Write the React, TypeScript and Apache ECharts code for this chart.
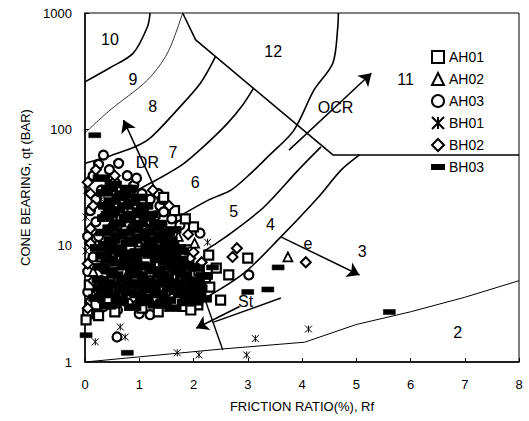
import React, { useEffect, useRef } from "react";
import * as echarts from "echarts";

const FONT = "Liberation Sans, Arial, sans-serif";

// Zone boundary curves [Rf, qt]
const line10_9 = [[0, 256], [0.46, 338], [0.89, 452], [1.15, 758], [1.2, 1000]];
const line9_8 = [[0, 93], [0.46, 146], [1.15, 265], [1.52, 452], [1.8, 1000]];
const line8_7 = [[0, 51], [0.5, 60], [0.9, 70], [1.2, 84], [1.7, 147], [2.13, 250], [2.41, 425]];
const line7_6 = [[0.96, 30], [1.33, 37], [1.8, 50], [2.2, 72], [2.63, 113], [2.9, 160], [3.11, 227]];
const line6_5 = [[1.75, 18], [2.3, 25], [2.69, 30], [3.06, 42], [3.4, 60], [3.85, 98], [4.22, 217], [4.57, 372], [4.66, 760], [4.67, 1000]];
const line5_4 = [[2.2, 9], [2.37, 10.1], [2.69, 12.8], [3.3, 21.5], [3.93, 44.6], [4.35, 70.6]];
const line4_3 = [[2.22, 3.55], [2.93, 5.8], [3.61, 11.9], [4.3, 26.1], [4.72, 44.6], [5.06, 60.2]];
const line12 = [[1.8, 1000], [2.04, 587], [4.57, 60.2], [8, 60.2]];
const line2 = [[0, 1.0], [2.5, 1.29], [4.05, 1.48], [5.0, 2.1], [6.0, 2.7], [7.0, 3.6], [8, 5.0]];
const lineSteep = [[2.19, 3.69], [2.54, 1.27]];
const lineSt = [[2.37, 2.2], [3.61, 3.55]];

// Arrows [x1, y1, x2, y2]
const arrows = [
  [1.43, 22.4, 0.71, 120],
  [3.76, 66.3, 5.28, 303],
  [3.61, 11.9, 5.06, 5.6],
  [2.85, 3.0, 2.05, 1.95],
];

// Zone / arrow labels [text, Rf, qt]
const zoneLabels: [string, number, number][] = [
  ["10", 0.46, 587], ["9", 0.885, 266], ["8", 1.25, 156], ["7", 1.62, 62.7],
  ["6", 2.03, 34.6], ["5", 2.74, 19.5], ["4", 3.42, 15.1], ["3", 5.11, 8.83],
  ["2", 6.87, 1.81], ["12", 3.47, 463], ["11", 5.91, 266], ["OCR", 4.62, 153],
  ["DR", 1.15, 51.4], ["e", 4.11, 10.5], ["St", 2.96, 3.28],
];

// Data points [Rf, qt]
const AH01 = [[2.0, 14.5], [2.28, 8.3], [2.22, 5.3], [2.65, 5.6], [2.5, 3.4], [3.0, 7.8], [1.92, 9.2], [2.1, 6.1], [1.8, 5.0], [2.3, 4.4], [1.52, 12], [1.7, 7.2], [2.0, 4.0], [1.2, 6.3], [1.0, 9], [0.82, 12], [0.5, 18], [0.3, 8], [0.08, 4.6], [0.05, 2.6], [0.62, 5], [0.92, 4], [1.42, 3.5], [1.82, 3.0], [2.08, 3.1], [0.42, 3.5], [0.2, 3.1], [1.12, 15], [0.7, 20], [1.62, 5.6], [2.42, 6.4], [1.95, 2.8], [0.02, 2.3], [1.32, 10], [1.85, 17], [1.65, 20], [1.45, 26], [0.25, 2.5], [0.55, 2.7], [1.05, 2.9], [1.35, 2.7]];
const AH02 = [[3.74, 8.0], [0.5, 30], [1.0, 20], [1.5, 8], [0.8, 6], [1.2, 3.5], [0.3, 10], [1.72, 12], [2.02, 10.5], [0.15, 6], [1.1, 4.8]];
const AH03 = [[0.34, 60], [0.62, 51], [0.78, 40], [0.45, 45], [0.25, 50], [0.15, 40], [0.55, 35], [0.9, 33], [1.05, 28], [1.2, 25], [1.38, 22], [1.45, 19.5], [1.3, 18], [1.6, 17], [1.75, 15], [1.1, 12], [0.3, 30], [0.2, 25], [0.1, 20], [0.4, 22], [0.7, 24], [0.6, 15], [0.25, 12], [0.15, 8], [0.05, 6], [0.3, 5], [0.5, 4], [0.8, 3.2], [0.35, 3], [0.1, 3.3], [0.6, 2.8], [1.0, 2.6], [0.9, 6], [1.3, 8], [1.6, 10], [1.9, 7], [2.12, 12.8], [3.02, 5.6], [0.59, 1.64], [0.2, 16], [0.5, 10], [0.75, 7], [1.2, 5], [1.5, 4], [0.05, 12], [0.4, 8], [1.35, 28], [1.42, 25], [0.95, 38], [0.85, 30], [0.05, 4], [0.12, 2.8], [1.2, 2.55]];
const BH01 = [[0.19, 1.49], [0.74, 1.64], [0.65, 2.0], [1.7, 1.2], [2.1, 1.15], [2.98, 1.15], [3.14, 1.59], [4.12, 1.92], [2.26, 10.7], [0.02, 17.6], [0.5, 12], [1.0, 6], [1.5, 15], [0.02, 9], [0.3, 25], [0.03, 30], [1.3, 4.5], [0.7, 8], [1.8, 6]];
const BH02 = [[2.8, 9.5], [2.72, 8.0], [4.07, 7.2], [1.94, 7.8], [0.05, 35], [0.1, 28], [0.15, 22], [0.1, 14], [0.22, 10], [0.05, 7], [0.15, 5], [0.25, 4], [0.1, 10.5], [0.35, 18], [0.45, 14], [0.6, 9], [0.9, 15], [1.2, 14], [1.4, 6], [1.7, 9.5], [2.0, 8.8], [0.3, 6.5], [0.7, 4.2], [1.0, 3.3], [1.55, 4.5], [0.8, 28], [0.55, 40], [0.2, 45], [1.9, 12.5], [1.25, 30], [1.55, 22], [2.15, 7.2], [0.05, 2.9], [0.25, 3.6]];
// BH03, isolated readings
const BH03_isolated = [[0.18, 89], [0.02, 1.7], [0.78, 1.2], [5.61, 2.69], [3.56, 6.5], [3.37, 4.2], [3.0, 4.0], [2.35, 6.5]];
// BH03, readings inside the dense cluster
const BH03_cluster = [
  [0.42, 3.05], [0.88, 2.95], [1.32, 3.1], [1.62, 2.9], [2.02, 3.3],
  [0.65, 3.25], [1.1, 3.25], [1.45, 3.2], [1.85, 3.25],
  [0.22, 3.55], [0.63, 3.45], [1.08, 3.6], [1.52, 3.4], [1.9, 3.7], [2.18, 3.5],
  [0.5, 3.8], [0.98, 3.8], [1.38, 3.8], [1.78, 3.8], [2.08, 3.85],
  [0.36, 4.1], [0.82, 3.95], [1.24, 4.2], [1.7, 4.05], [2.1, 4.3],
  [0.3, 4.35], [0.68, 4.35], [1.15, 4.35], [1.58, 4.35], [1.98, 4.35],
  [0.52, 4.6], [1.02, 4.5], [1.43, 4.7], [1.82, 4.4],
  [0.4, 4.8], [0.85, 4.8], [1.25, 4.8], [1.65, 4.8], [2.05, 4.8],
  [0.28, 5.1], [0.72, 5.2], [1.12, 4.95], [1.48, 5.3], [1.92, 5.05], [2.2, 5.5],
  [0.55, 5.6], [1.0, 5.6], [1.4, 5.6], [1.82, 5.6],
  [0.45, 6.1], [0.9, 5.9], [1.3, 6.2], [1.72, 6.0], [2.05, 6.4],
  [0.3, 6.6], [0.75, 6.6], [1.15, 6.6], [1.6, 6.6], [1.95, 6.6],
  [0.62, 7.1], [1.03, 6.8], [1.5, 7.2], [1.86, 6.9],
  [0.45, 7.6], [0.9, 7.6], [1.35, 7.6], [1.75, 7.6],
  [0.35, 8.2], [0.78, 7.9], [1.22, 8.3], [1.62, 8.1],
  [0.68, 8.6], [1.1, 8.6], [1.5, 8.6],
  [0.55, 9.1], [0.98, 8.8], [1.4, 9.3], [1.76, 9.0],
  [0.25, 9.6], [0.62, 9.6], [1.3, 9.6], [1.7, 9.6],
  [0.4, 10.2], [0.82, 10.5], [1.18, 9.9], [1.58, 10.3],
  [0.5, 11.2], [0.9, 11.2], [1.25, 11.2], [1.55, 11.2],
  [0.62, 12.2], [1.02, 11.8], [1.42, 12.4],
  [0.35, 13], [0.75, 13], [1.15, 13], [1.5, 13],
  [0.48, 14.1], [0.92, 13.8], [1.3, 14.3], [1.62, 13.7],
  [0.6, 15.5], [1.0, 15.5], [1.35, 15.5],
  [0.38, 17.2], [0.78, 16.8], [1.15, 17.5],
  [0.45, 18.5], [0.85, 18.5], [1.2, 18.5],
  [0.58, 20.3], [1.02, 19.8],
  [0.4, 22], [0.75, 22], [1.1, 22],
  [0.5, 24.2], [0.86, 23.6],
  [0.65, 26], [1.0, 26],
  [0.36, 28.5], [0.7, 27.8],
  [0.45, 31], [0.8, 31],
  [0.52, 33.5], [0.3, 38]];

const ASTERISK = "path://M0,0L10,10M10,0L0,10M5,0L5,10";
const DASH = "path://M0,0h12v4h-12z";

export default function App() {
  const ref = useRef<HTMLDivElement>(null);
  useEffect(() => {
    if (!ref.current) return;
    const chart = echarts.init(ref.current, null, { renderer: "svg" });
    const boundary = (name: string, data: number[][], width: number, smooth: boolean | number) => ({
      name, type: "line", data, showSymbol: false, symbol: "none", smooth,
      lineStyle: { color: "#000", width }, silent: true, z: 3,
    });
    const pts = (name: string, data: number[][], symbol: string, size: any, filled: boolean, z: number, bw: number) => ({
      name, type: "scatter", data, symbol, symbolSize: size, z,
      itemStyle: { color: filled ? "#000" : "#fff", borderColor: "#000", borderWidth: bw, opacity: 1 },
    });
    chart.setOption({
      animation: false,
      backgroundColor: "#fff",
      textStyle: { fontFamily: FONT },
      grid: { left: 85, right: 10, top: 13, bottom: 59, show: true, borderColor: "#000", borderWidth: 1 },
      xAxis: {
        type: "value", min: 0, max: 8, interval: 1,
        name: "FRICTION RATIO(%), Rf", nameLocation: "middle", nameGap: 38,
        nameTextStyle: { color: "#000", fontSize: 13, fontFamily: FONT },
        axisLine: { lineStyle: { color: "#000", width: 1.5 } },
        axisTick: { inside: true, length: 4, lineStyle: { color: "#000" } },
        axisLabel: { color: "#000", fontSize: 13, margin: 16, fontFamily: FONT },
        splitLine: { show: false },
      },
      yAxis: {
        type: "log", logBase: 10, min: 1, max: 1000,
        name: "CONE BEARING, qt (BAR)", nameLocation: "middle", nameGap: 48,
        nameTextStyle: { color: "#000", fontSize: 13, fontFamily: FONT },
        axisLine: { show: true, lineStyle: { color: "#000", width: 1.5 } },
        axisTick: { inside: true, length: 4, lineStyle: { color: "#000" } },
        axisLabel: { color: "#000", fontSize: 13, margin: 13, fontFamily: FONT, formatter: (v: number) => String(Math.round(v)) },
        splitLine: { show: false },
        minorTick: { show: false },
      },
      legend: {
        orient: "vertical", left: 426, top: 45, itemWidth: 12, itemHeight: 12, itemGap: 8,
        selectedMode: false,
        textStyle: { color: "#000", fontSize: 14, fontFamily: FONT },
        data: [
          { name: "AH01" }, { name: "AH02" }, { name: "AH03" },
          { name: "BH01" }, { name: "BH02" }, { name: "BH03", icon: DASH },
        ],
      },
      series: [
        boundary("b10_9", line10_9, 1.6, 0.3),
        boundary("b9_8", line9_8, 0.8, 0.3),
        boundary("b8_7", line8_7, 1.6, 0.3),
        boundary("b7_6", line7_6, 1.6, 0.3),
        boundary("b6_5", line6_5, 1.6, 0.3),
        boundary("b5_4", line5_4, 1.6, 0.3),
        boundary("b4_3", line4_3, 1.6, 0.3),
        boundary("b12", line12, 1.6, false),
        boundary("b2", line2, 1.0, false),
        boundary("bSteep", lineSteep, 1.4, false),
        boundary("bSt", lineSt, 1.4, false),
        pts("BH01", BH01, ASTERISK, 7, true, 5, 1),
        pts("AH03", AH03, "circle", 9, false, 5, 2.2),
        pts("AH01", AH01, "rect", 9, false, 6, 2.2),
        pts("BH02", BH02, "diamond", 10, false, 6, 2),
        pts("AH02", AH02, "triangle", 9, false, 6, 1.8),
        pts("BH03", BH03_cluster, DASH, [16, 7], true, 8, 0.8),
        pts("BH03", BH03_isolated, DASH, [12, 5], true, 8, 0.5),
        {
          name: "labels", type: "scatter", symbolSize: 0, silent: true, z: 10,
          itemStyle: { color: "#000", opacity: 1 },
          data: zoneLabels.map(([t, x, y]) => ({ name: t, value: [x, y] })),
          label: { show: true, position: "inside", formatter: "{b}", fontSize: 16, color: "#000", textBorderWidth: 0, opacity: 1, fontFamily: FONT },
          markLine: {
            silent: true, symbol: ["none", "arrow"], symbolSize: 12, precision: 4,
            lineStyle: { color: "#000", width: 1.5, type: "solid" },
            label: { show: false },
            data: arrows.map(([x1, y1, x2, y2]) => [{ coord: [x1, y1] }, { coord: [x2, y2] }]),
          },
        },
      ],
    });
    return () => chart.dispose();
  }, []);
  return <div ref={ref} style={{ width: 529, height: 421, position: "absolute", left: 0, top: 0 }} />;
}
